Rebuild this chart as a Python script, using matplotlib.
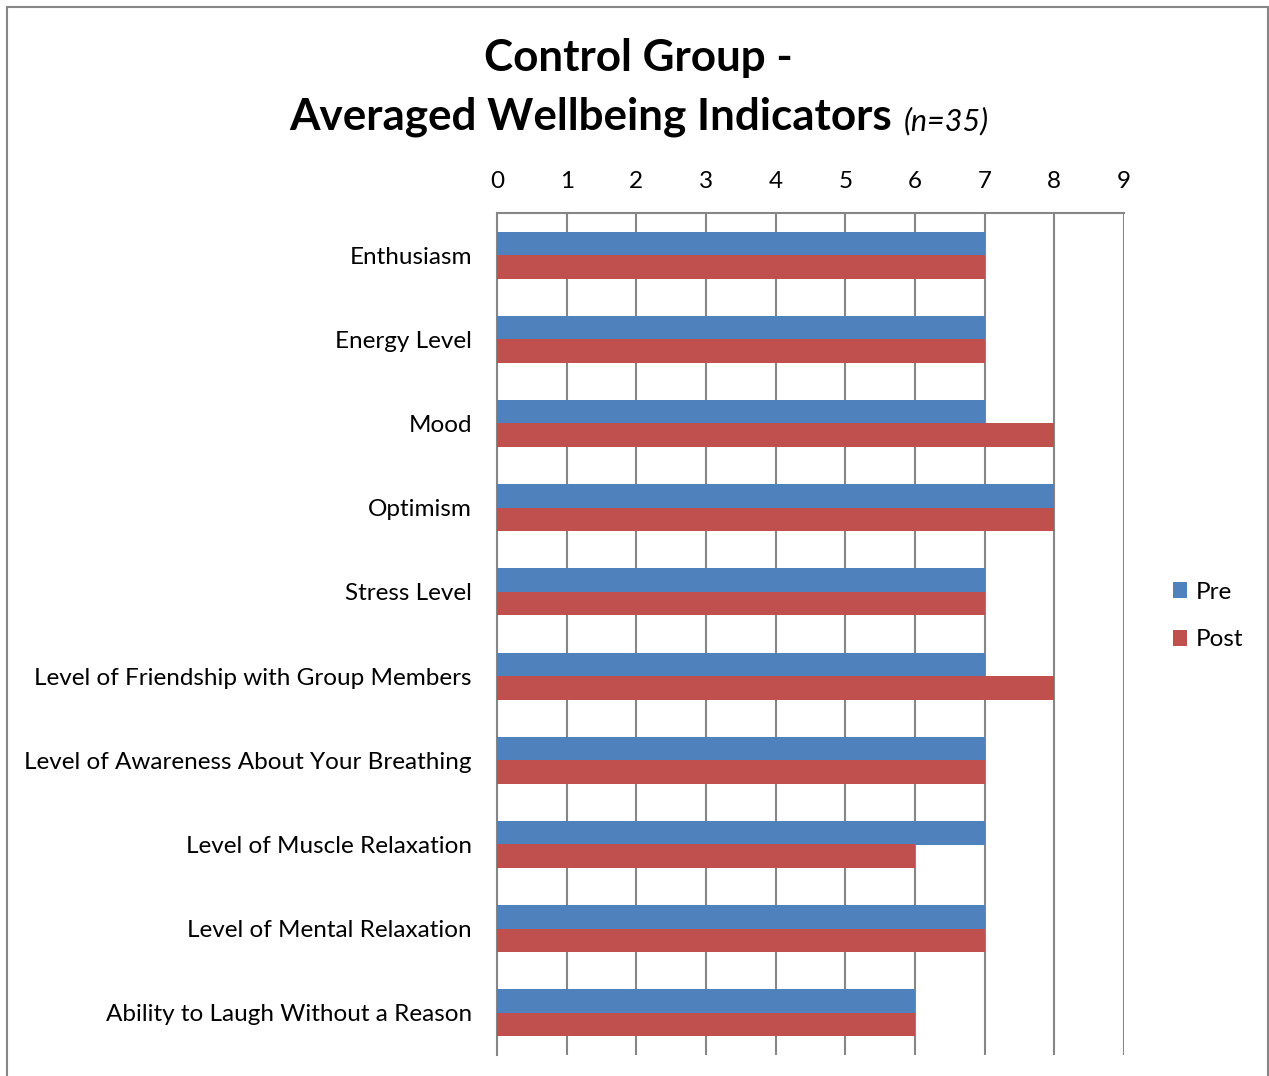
import matplotlib
matplotlib.use("Agg")
import matplotlib.pyplot as plt
from matplotlib.patches import Rectangle
import numpy as np

categories = ["Enthusiasm", "Energy Level", "Mood", "Optimism", "Stress Level",
              "Level of Friendship with Group Members",
              "Level of Awareness About Your Breathing",
              "Level of Muscle Relaxation", "Level of Mental Relaxation",
              "Ability to Laugh Without a Reason"]
pre = [7, 7, 7, 8, 7, 7, 7, 7, 7, 6]
post = [7, 7, 8, 8, 7, 8, 7, 6, 7, 6]
xticks = list(range(0, 10))

plt.rcParams['font.family'] = ['Lato', 'DejaVu Sans']

W, H = 1269, 1076
fig = plt.figure(figsize=(W/100, H/100), dpi=100)
ax = fig.add_axes([497/W, 1-1055/H, (1124-497)/W, (1055-213)/H])

y = np.arange(len(categories))
bh = 0.28
blue = "#4F81BD"
red = "#C0504D"
ax.barh(y - bh/2, pre, height=bh, color=blue, label="Pre", zorder=3)
ax.barh(y + bh/2, post, height=bh, color=red, label="Post", zorder=3)

ax.set_xlim(0, 9)
ax.set_ylim(len(categories) - 0.5, -0.5)
ax.set_xticks(xticks)
ax.set_xticklabels([str(t) for t in xticks], fontsize=17.5)
ax.xaxis.tick_top()
ax.tick_params(axis='x', length=0, pad=15)
ax.set_yticks(y)
ax.set_yticklabels(categories, fontsize=17.5)
ax.tick_params(axis='y', length=0, pad=18)
ax.grid(axis='x', color="#868686", linewidth=1.5, zorder=1)
for s in ['right', 'bottom']:
    ax.spines[s].set_visible(False)
for s in ['top', 'left']:
    ax.spines[s].set_color("#868686")
    ax.spines[s].set_linewidth(1.5)

# legend
handles, labels = ax.get_legend_handles_labels()
leg = fig.legend(handles, labels, loc='center left', bbox_to_anchor=(1151/W, 1-616/H),
                 frameon=False, fontsize=17.5, handlelength=0.6, handleheight=0.6,
                 labelspacing=1.1, handletextpad=0.35)

# title
fig.text(638/W, 1-58/H, "Control Group -", ha='center', va='center',
         fontsize=31.7, fontweight='bold')
fig.text(892/W, 1-117/H, "Averaged Wellbeing Indicators", ha='right', va='center',
         fontsize=31.7, fontweight='bold')
fig.text(904/W, 1-121/H, "(n=35)", ha='left', va='center',
         fontsize=22, fontstyle='italic')

# outer border
fig.patches.append(Rectangle((7/W, -0.1), (1268-7)/W, 1-7/H+0.1,
                             transform=fig.transFigure, fill=False,
                             edgecolor="#868686", linewidth=1.5))

fig.savefig("out.png", dpi=100)
